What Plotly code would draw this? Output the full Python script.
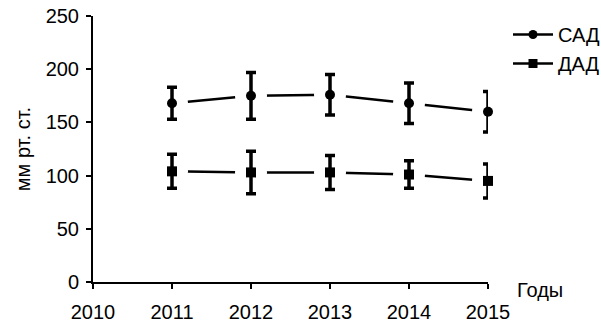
import plotly.graph_objects as go

years = [2011, 2012, 2013, 2014, 2015]
sad_mean = [168, 175, 176, 168, 160]
sad_err = [15, 22, 19, 19, 19]
dad_mean = [104, 103, 103, 101, 95]
dad_err = [16, 20, 16, 13, 16]
x_ticks = [2010, 2011, 2012, 2013, 2014, 2015]
y_ticks = [0, 50, 100, 150, 200, 250]

FONT = "Liberation Sans, Arial, sans-serif"
fig = go.Figure()

series = [
    ("САД", sad_mean, sad_err, "circle"),
    ("ДАД", dad_mean, dad_err, "square"),
]

for name, mean, err, sym in series:
    # connecting line
    fig.add_trace(go.Scatter(x=years, y=mean, mode="lines",
                             line=dict(color="black", width=2.5),
                             showlegend=False, hoverinfo="skip", cliponaxis=False))
    # white discs leave a gap in the line around each point
    fig.add_trace(go.Scatter(x=years, y=mean, mode="markers",
                             marker=dict(color="white", size=32, line=dict(width=0)),
                             showlegend=False, hoverinfo="skip", cliponaxis=False))
    # points with error bars
    fig.add_trace(go.Scatter(x=years, y=mean, mode="markers",
                             marker=dict(color="black", size=10, symbol=sym),
                             error_y=dict(type="data", array=err, color="black",
                                          thickness=3.5, width=5),
                             showlegend=False, cliponaxis=False))
    # legend entry
    fig.add_trace(go.Scatter(x=[None], y=[None], mode="lines+markers", name=name,
                             legendgroup=name,
                             line=dict(color="black", width=2.5),
                             marker=dict(color="black", size=9, symbol=sym)))

fig.update_layout(
    width=601, height=322,
    margin=dict(l=93, r=113, t=16, b=40),
    paper_bgcolor="white", plot_bgcolor="white",
    font=dict(family=FONT, size=20, color="black"),
    legend=dict(xref="container", yref="container", x=508 / 601, y=1 - 15 / 322,
                xanchor="left", yanchor="top",
                font=dict(size=20), itemwidth=40, tracegroupgap=0,
                traceorder="grouped", bgcolor="rgba(0,0,0,0)"),
    xaxis=dict(range=[2010, 2015], tickvals=x_ticks, showgrid=False, zeroline=False,
               showline=True, linecolor="black", linewidth=2,
               ticks="outside", ticklen=5, tickwidth=2, tickcolor="black",
               ticklabelstandoff=6, automargin=False),
    yaxis=dict(range=[0, 250], tickvals=y_ticks, showgrid=False, zeroline=False,
               showline=True, linecolor="black", linewidth=2,
               ticks="outside", ticklen=5, tickwidth=2, tickcolor="black",
               ticklabelstandoff=3, automargin=False,
               title=dict(text="мм рт. ст.", font=dict(size=20), standoff=10)),
    # x-axis caption just to the right of the axis end
    annotations=[dict(text="Годы", x=1.068, y=0, xref="paper", yref="paper",
                      xanchor="left", yanchor="middle", yshift=-8,
                      showarrow=False, font=dict(size=20))],
)

fig.write_html("out.html")
